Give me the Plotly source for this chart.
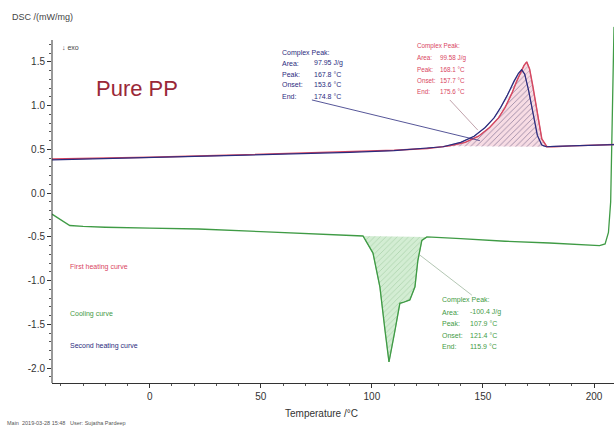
import plotly.graph_objects as go

# ---------------- data ----------------
heat1_T = [-44, -20, 0, 30, 60, 90, 110, 125, 135, 142, 148, 153, 157, 160, 163, 165,
           167, 168.5, 169.7, 171, 172.5, 174.3, 176.5, 178.8, 182, 190, 200, 209]
heat1_dsc = [0.39, 0.40, 0.41, 0.43, 0.45, 0.47, 0.49, 0.51, 0.54, 0.58, 0.65, 0.75, 0.86,
             0.98, 1.14, 1.27, 1.38, 1.46, 1.50, 1.42, 1.22, 0.95, 0.62, 0.53, 0.53, 0.54,
             0.55, 0.555]

heat2_T = [-44, -20, 0, 30, 60, 90, 110, 125, 132, 140, 146, 151, 155, 158, 161, 164, 166,
           167.4, 168.8, 170.5, 172.5, 174.5, 176.5, 178.5, 182, 190, 200, 209]
heat2_dsc = [0.38, 0.395, 0.405, 0.425, 0.445, 0.465, 0.485, 0.51, 0.53, 0.58, 0.65, 0.75,
             0.86, 0.98, 1.12, 1.28, 1.37, 1.41, 1.36, 1.18, 0.92, 0.66, 0.55, 0.53, 0.535,
             0.54, 0.55, 0.555]

cool_T = [-44, -40, -36, -30, -20, 0, 22, 50, 80, 96, 100.5, 103.6, 105.9, 107.7, 110.4,
          112.6, 114, 117.1, 119.4, 120.7, 122.5, 124.8, 140, 160, 180, 195, 202.5, 205,
          206.5, 207.5, 209]
cool_dsc = [-0.24, -0.31, -0.37, -0.38, -0.39, -0.40, -0.41, -0.44, -0.47, -0.49, -0.685,
            -1.07, -1.57, -1.93, -1.57, -1.26, -1.25, -1.22, -1.07, -0.77, -0.54, -0.50,
            -0.52, -0.55, -0.57, -0.59, -0.60, -0.58, -0.45, -0.10, 1.90]

# integration limits of the evaluated peaks
heat1_limits = (135, 178.8)
heat2_limits = (132, 178.5)
cool_limits = (96, 124.8)

blue_labels = ["Complex Peak:", "Area:", "Peak:", "Onset:", "End:"]
blue_values = ["", "97.95 J/g", "167.8 °C", "153.6 °C", "174.8 °C"]
red_labels = ["Complex Peak:", "Area:", "Peak:", "Onset:", "End:"]
red_values = ["", "99.58 J/g", "168.1 °C", "157.7 °C", "175.6 °C"]
green_labels = ["Complex Peak:", "Area:", "Peak:", "Onset:", "End:"]
green_values = ["", "-100.4 J/g", "107.9 °C", "121.4 °C", "115.9 °C"]

legend_texts = ["First heating curve", "Cooling curve", "Second heating curve"]

x_ticks = [0, 50, 100, 150, 200]
y_ticks = [-2.0, -1.5, -1.0, -0.5, 0.0, 0.5, 1.0, 1.5]

# ---------------- styling ----------------
RED = "#d9465f"
NAVY = "#2b2b7e"
GREEN = "#3f9b45"
FONT = "Liberation Sans"
Y_MIN, Y_MAX = -2.17, 2.15
AXIS_TOP = 1.75          # the drawn y-axis stops here (below the unit label)
y_minor = [round(-2.1 + 0.1 * i, 1) for i in range(39)]


def segment(T, v, lim):
    xs = [t for t in T if lim[0] <= t <= lim[1]]
    ys = [y for t, y in zip(T, v) if lim[0] <= t <= lim[1]]
    return xs, ys


fig = go.Figure()

# hatched peak areas
for T, v, lim, fg, bg in [
    (heat1_T, heat1_dsc, heat1_limits, "#6a4a6a", "rgba(240,190,205,0.55)"),
    (heat2_T, heat2_dsc, heat2_limits, "#5a5a8a", "rgba(0,0,0,0)"),
    (cool_T, cool_dsc, cool_limits, "#6aa86a", "rgba(200,232,200,0.8)"),
]:
    xs, ys = segment(T, v, lim)
    fig.add_trace(go.Scatter(
        x=xs, y=ys, mode="lines", fill="toself",
        line=dict(width=0.6, color=fg),
        fillcolor=bg,
        fillpattern=dict(shape="/", fgcolor=fg, bgcolor=bg, size=4, solidity=0.15),
        hoverinfo="skip", showlegend=False))

fig.add_trace(go.Scatter(x=cool_T, y=cool_dsc, mode="lines",
                         line=dict(color=GREEN, width=1.3), showlegend=False))
fig.add_trace(go.Scatter(x=heat1_T, y=heat1_dsc, mode="lines",
                         line=dict(color=RED, width=1.4), showlegend=False))
fig.add_trace(go.Scatter(x=heat2_T, y=heat2_dsc, mode="lines",
                         line=dict(color=NAVY, width=1.2), showlegend=False))

annotations = []


def txt(x, y, s, color, size, xref="x", yref="y", xanchor="left"):
    annotations.append(dict(x=x, y=y, xref=xref, yref=yref, text=s, showarrow=False,
                            xanchor=xanchor, yanchor="middle",
                            font=dict(family=FONT, size=size, color=color)))


# peak annotation blocks
blocks = [
    (blue_labels, blue_values, 58.6, 73.0, [1.606, 1.485, 1.36, 1.237, 1.103], NAVY, 7),
    (red_labels, red_values, 119.4, 129.8, [1.683, 1.545, 1.408, 1.283, 1.16], RED, 6.3),
    (green_labels, green_values, 130.6, 143.2, [-1.223, -1.364, -1.49, -1.623, -1.757],
     GREEN, 7),
]
for labels, values, xl, xv, ys, col, fs in blocks:
    for lab, val, yy in zip(labels, values, ys):
        txt(xl, yy, lab, col, fs)
        if val:
            txt(xv, yy, val, col, fs)

# curve names
for s, yy, col in zip(legend_texts, [-0.846, -1.383, -1.749], [RED, GREEN, NAVY]):
    txt(-36.9, yy, s, col, 7)

txt(-25, 1.2, "Pure PP", "#9a2838", 22)
txt(-40.5, 1.66, "↓ exo", "#444444", 7)

# outside texts
txt(-0.0747, 0.968, "DSC /(mW/mg)", "#444444", 9, xref="paper", yref="paper")
txt(0.4804, -0.0794, "Temperature /°C", "#333333", 10, xref="paper", yref="paper",
    xanchor="center")
txt(-0.0836, -0.1058, "Main  2019-03-28 15:48   User: Sujatha Pardeep", "#555555", 5.5,
    xref="paper", yref="paper")

# leader lines and the (shortened) y-axis line
shapes = [
    dict(type="line", x0=73, y0=1.065, x1=148.6, y1=0.6, line=dict(color=NAVY, width=0.8)),
    dict(type="line", x0=135.1, y0=1.065, x1=147.7, y1=0.72,
         line=dict(color="#b08a95", width=0.8)),
    dict(type="line", x0=145, y0=-1.166, x1=121.6, y1=-0.708,
         line=dict(color="#a0b8a0", width=0.8)),
    dict(type="line", xref="paper", x0=0, x1=0, yref="y", y0=Y_MIN, y1=AXIS_TOP,
         line=dict(color="#333333", width=1)),
]

fig.update_layout(
    width=614, height=428,
    margin=dict(l=52, r=0, t=5, b=45),
    paper_bgcolor="white", plot_bgcolor="white",
    annotations=annotations, shapes=shapes,
    font=dict(family=FONT, color="#333333"),
    xaxis=dict(range=[-44, 209], tickvals=x_ticks, ticktext=[str(t) for t in x_ticks],
               showgrid=False, zeroline=False, showline=True, linecolor="#333333",
               linewidth=1, ticks="outside", ticklen=4, tickcolor="#333333",
               tickfont=dict(size=10, color="#333333"),
               minor=dict(dtick=10, tick0=0, ticks="outside", ticklen=2,
                          tickcolor="#555555")),
    yaxis=dict(range=[Y_MIN, Y_MAX], tickvals=y_ticks,
               ticktext=[f"{t:.1f}" for t in y_ticks],
               showgrid=False, zeroline=False, showline=False,
               ticks="outside", ticklen=4, tickcolor="#333333",
               tickfont=dict(size=10, color="#333333"),
               minor=dict(tickvals=y_minor, ticks="outside", ticklen=2,
                          tickcolor="#555555")),
)

fig.write_html("out.html", config={"displayModeBar": False},
               post_script="document.body.style.margin='0';document.body.style.padding='0';")
